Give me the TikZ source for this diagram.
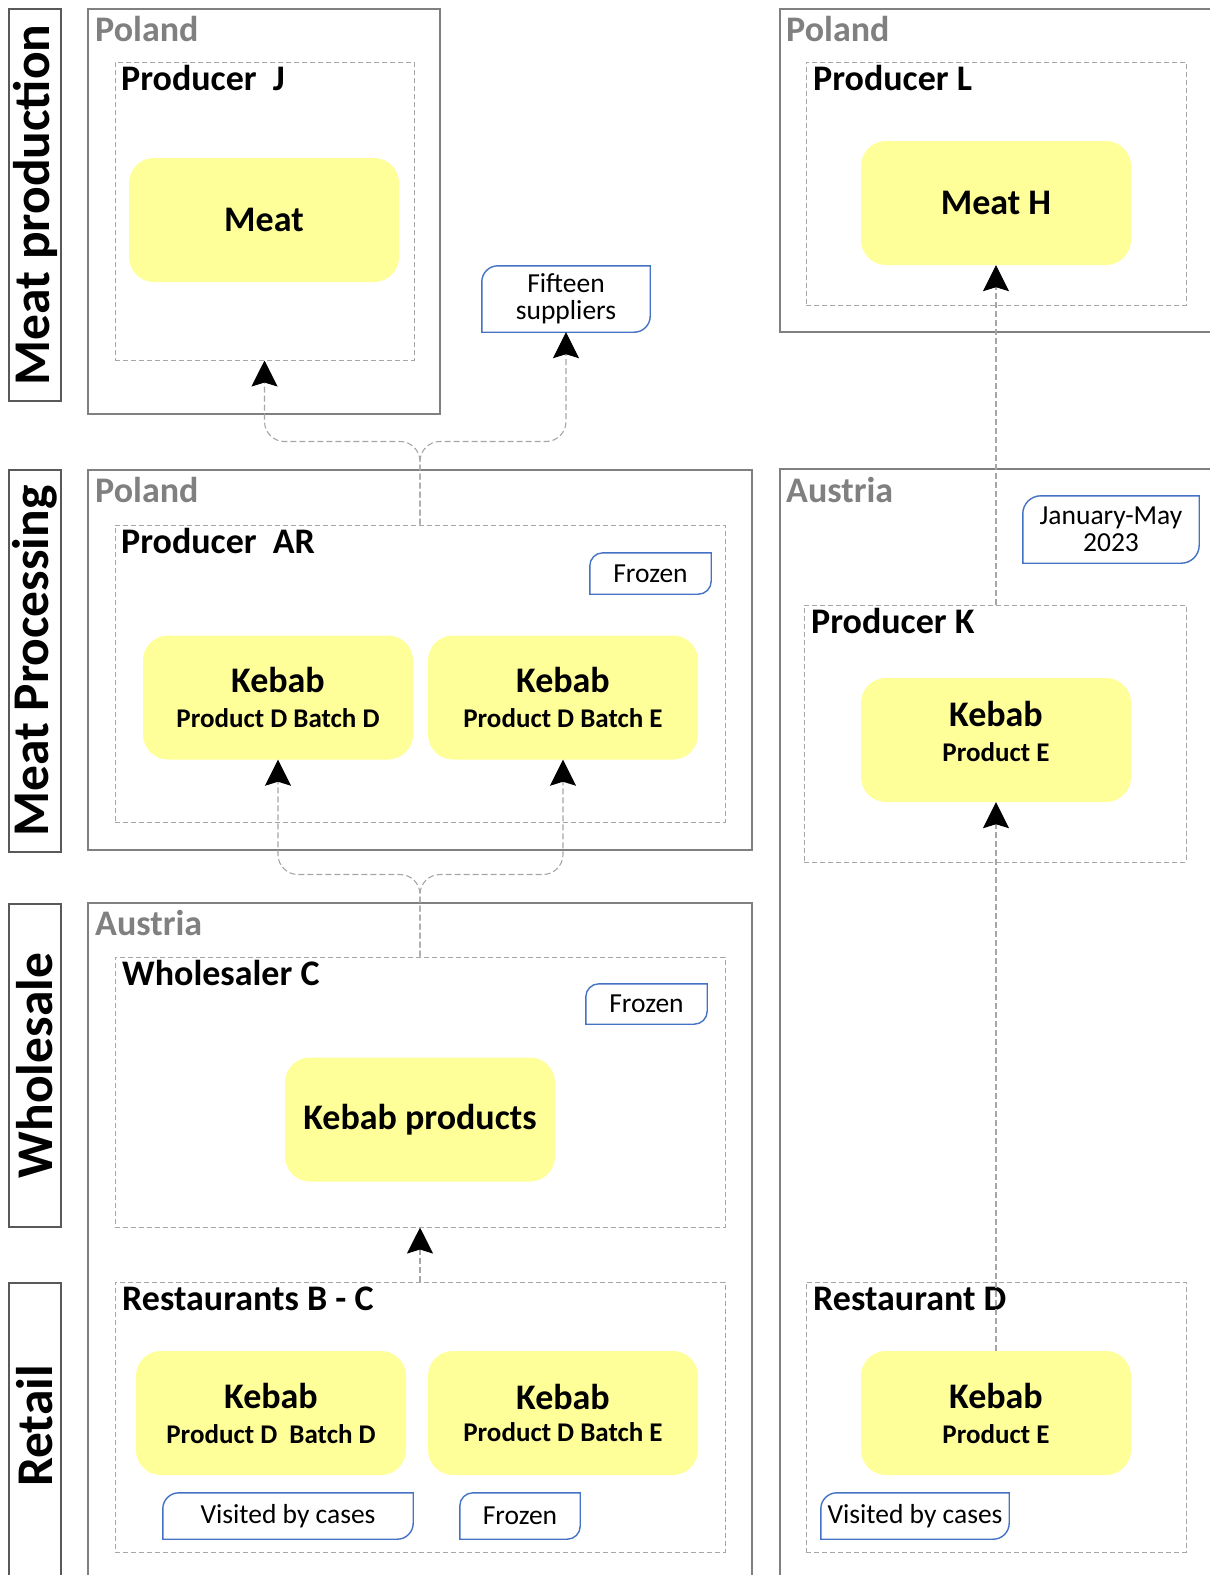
\documentclass[tikz,border=0pt]{standalone}
\usepackage{fontspec}
\setmainfont{Carlito}
\usetikzlibrary{arrows.meta}
\definecolor{ybg}{HTML}{FFFF99}
\definecolor{tagblue}{HTML}{4472C4}
\definecolor{cgray}{HTML}{808080}
\definecolor{dgray}{HTML}{A6A6A6}
\definecolor{sgray}{HTML}{595959}
\newcommand\tagshape[2]{%
  \draw[tagline] ([yshift=-#2]#1.north west) -- (#1.south west) -- ([xshift=-#2]#1.south east)
    arc[start angle=-90,end angle=0,radius=#2] -- (#1.north east) -- ([xshift=#2]#1.north west)
    arc[start angle=90,end angle=180,radius=#2] -- cycle;}
\newcommand\subline[1]{{\fontsize{27}{30}\selectfont #1}}
\begin{document}
\begin{tikzpicture}[x=1pt,y=1pt,
 cbox/.style={draw=cgray, line width=1.3pt},
 stagebox/.style={draw=sgray, line width=1.3pt, font=\bfseries\fontsize{51.5}{60}\selectfont, inner sep=0pt},
 stagetext/.style={font=\bfseries\fontsize{51.5}{60}\selectfont, inner sep=0pt},
 dbox/.style={draw=dgray, line width=1pt, dash pattern=on 5pt off 3pt, inner sep=0pt},
 ybox/.style={fill=ybg, rounded corners=25pt, minimum width=270pt, minimum height=124pt, align=center, inner sep=0pt, font=\bfseries\fontsize{36}{41}\selectfont},
 ytext/.style={align=center, inner sep=0pt, font=\bfseries\fontsize{36}{41}\selectfont},
 country/.style={text=cgray, font=\bfseries\fontsize{36}{40}\selectfont, inner sep=0pt, anchor=base west},
 cont/.style={font=\bfseries\fontsize{36}{40}\selectfont, inner sep=0pt, anchor=base west},
 tagtext/.style={inner sep=0pt, align=center, font=\fontsize{27.5}{27}\selectfont},
 tagline/.style={draw=tagblue, line width=1.4pt},
 conn/.style={draw=dgray, line width=1.1pt, dash pattern=on 6pt off 3pt, -{Stealth[length=26pt,width=26pt,inset=4pt,color=black]}},
]
\useasboundingbox (0,0) rectangle (1210,-1575);
\fill[white] (0,0) rectangle (1210,-1575);
\clip (0,0) rectangle (1210,-1575);

% stage labels
\node[stagebox, rotate=90, minimum width=392pt, minimum height=52pt] (s1) at (35,-205) {Meat production};
\node[stagebox, rotate=90, minimum width=382pt, minimum height=52pt] (s2) at (35,-661) {Meat Processing};
\node[stagebox, rotate=90, minimum width=323pt, minimum height=52pt] (s3) at (35,-1065.5) {Wholesale};
\draw[draw=sgray, line width=1.3pt] (9,-1585) |- (61,-1283) -- (61,-1585);
\node[stagetext, rotate=90] (s4) at (35,-1426) {Retail};

% country boxes
\draw[cbox] (88,-9) rectangle (440,-414);
\draw[cbox] (1220,-9) -- (780,-9) -- (780,-332) -- (1220,-332);
\draw[cbox] (88,-470) rectangle (752,-850);
\draw[cbox] (1220,-469) -- (780,-469) -- (780,-1585);
\draw[cbox] (88,-1585) -- (88,-903) -- (752,-903) -- (752,-1585);
\node[country] (c1) at (95,-41) {Poland};
\node[country] (c2) at (786,-41) {Poland};
\node[country] (c3) at (95,-502) {Poland};
\node[country] (c4) at (786,-502) {Austria};
\node[country] (c5) at (95,-935) {Austria};

% dashed containers
\node[dbox, minimum width=299pt, minimum height=298pt] (J) at (264.5,-211) {};
\node[dbox, minimum width=380pt, minimum height=243pt] (L) at (996,-183.5) {};
\node[dbox, minimum width=610pt, minimum height=297pt] (AR) at (420,-673.5) {};
\node[dbox, minimum width=382pt, minimum height=257pt] (K) at (995,-733.5) {};
\node[dbox, minimum width=610pt, minimum height=270pt] (W) at (420,-1092) {};
\node[dbox, minimum width=610pt, minimum height=270pt] (RBC) at (420,-1417) {};
\node[dbox, minimum width=380pt, minimum height=270pt] (RD) at (996,-1417) {};
\node[cont] (tJ) at (121,-90) {Producer~ J};
\node[cont] (tL) at (813,-90) {Producer L};
\node[cont] (tAR) at (121,-553) {Producer~ AR};
\node[cont] (tK) at (811,-633) {Producer K};
\node[cont] (tW) at (122,-985) {Wholesaler C};
\node[cont] (tRBC) at (122,-1310) {Restaurants B - C};
\node[cont] (tRD) at (813,-1310) {Restaurant D};

% yellow boxes
\node[ybox] (meat) at (264,-220) {Meat};
\node[ybox] (meatH) at (996,-203) {Meat H};
\node[ybox] (kAD) at (278,-697.5) {Kebab\\[-6pt]\subline{Product D Batch D}};
\node[ybox] (kAE) at (563,-697.5) {Kebab\\[-6pt]\subline{Product D Batch E}};
\node[ybox] (kK) at (996,-740) {};
\node[ytext] (kKt) at ([yshift=9pt]kK.center) {Kebab\\[-6pt]\subline{Product E}};
\node[ybox] (kprod) at (420,-1119.5) {Kebab products};
\node[ybox] (rD) at (271,-1413) {Kebab\\[-6pt]\subline{Product D~ Batch D}};
\node[ybox] (rE) at (563,-1413) {Kebab\\[-9pt]\subline{Product D Batch E}};
\node[ybox] (rDK) at (996,-1413) {Kebab\\[-6pt]\subline{Product E}};

% tags
\node[tagtext, minimum width=168pt, minimum height=66pt] (f15) at (566,-299) {Fifteen\\suppliers};
\tagshape{f15}{16pt}
\node[tagtext, minimum width=121pt, minimum height=41pt] (frz1) at (650.5,-573.5) {Frozen};
\tagshape{frz1}{13pt}
\node[tagtext, minimum width=176pt, minimum height=67pt] (jan) at (1111,-529.5) {January-May\\2023};
\tagshape{jan}{18pt}
\node[tagtext, minimum width=121pt, minimum height=40pt] (frz2) at (646.5,-1004) {Frozen};
\tagshape{frz2}{13pt}
\node[tagtext, minimum width=250pt, minimum height=46pt] (vis1) at (288,-1516) {Visited by cases};
\tagshape{vis1}{16pt}
\node[tagtext, minimum width=120pt, minimum height=46pt] (frz3) at (520,-1516) {Frozen};
\tagshape{frz3}{13pt}
\node[tagtext, minimum width=188pt, minimum height=46pt] (vis2) at (915,-1516) {Visited by cases};
\tagshape{vis2}{16pt}

% connectors
\coordinate (jAR) at ([yshift=83pt]AR.north);
\coordinate (jW) at ([yshift=82pt]W.north);
\draw[conn, rounded corners=20pt] (AR.north) -- (jAR) -| (J.south);
\draw[conn, rounded corners=20pt] (AR.north) -- (jAR) -| (f15.south);
\draw[conn, rounded corners=20pt] (W.north) -- (jW) -| (kAD.south);
\draw[conn, rounded corners=20pt] (W.north) -- (jW) -| (kAE.south);
\draw[conn] (RBC.north) -- (W.south);
\draw[conn] (rDK.north) -- (kK.south);
\draw[conn] (K.north -| meatH.south) -- (meatH.south);
\end{tikzpicture}
\end{document}
